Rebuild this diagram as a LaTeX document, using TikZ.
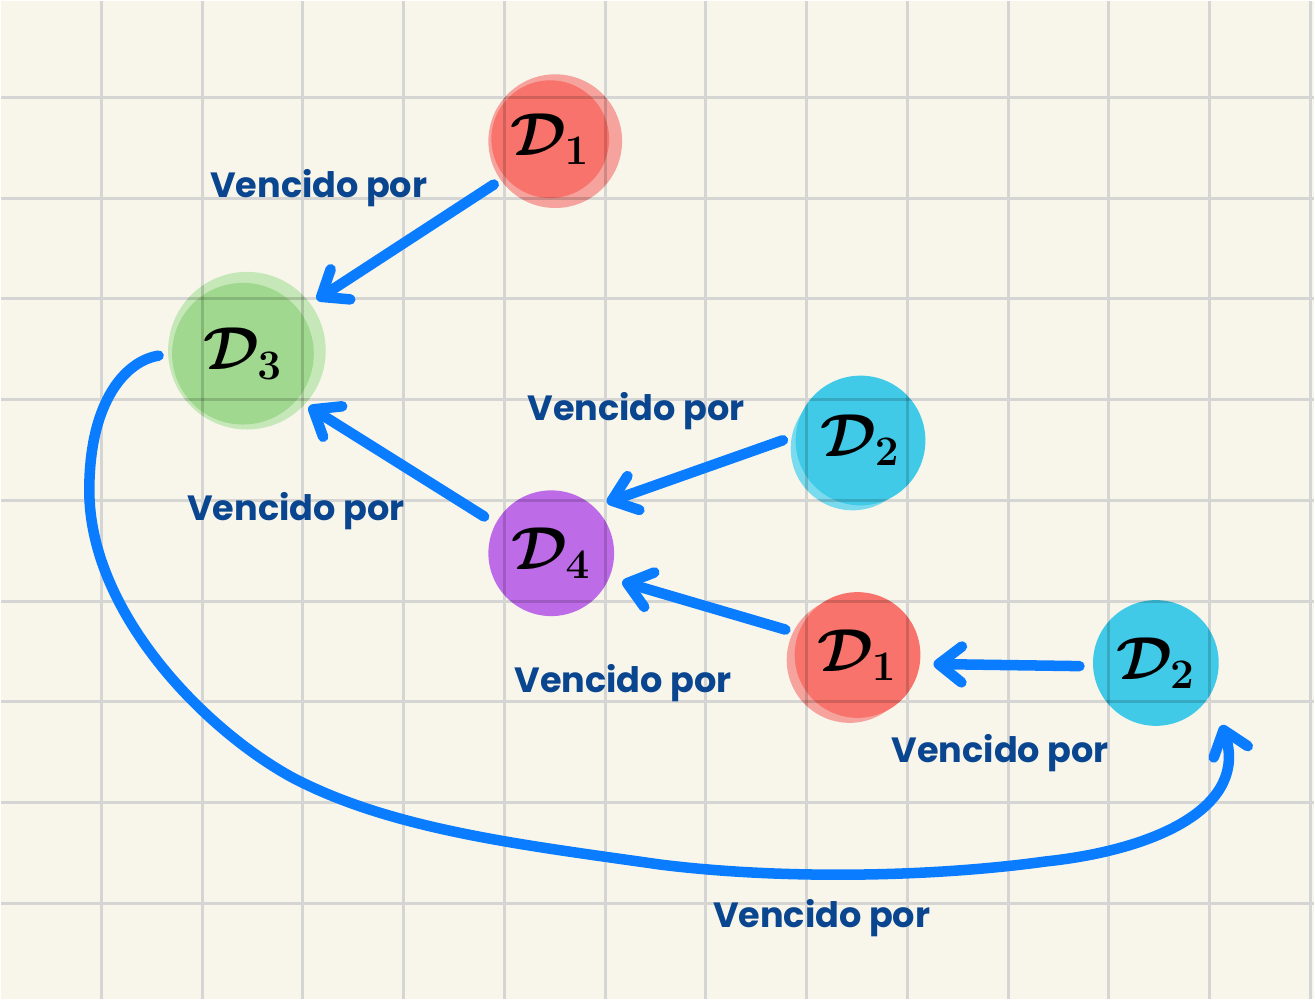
\documentclass[tikz,border=0pt]{standalone}
\usepackage{amsmath,amssymb}
\usepackage{fontspec}
\setsansfont{Poppins}
\usetikzlibrary{arrows.meta}

\definecolor{papel}{HTML}{F8F6EB}
\definecolor{cuadro}{HTML}{D5D5D3}
\definecolor{tinta}{HTML}{0A4690}
\definecolor{azul}{HTML}{0A7CFF}
\definecolor{rojo}{HTML}{F8736C}
\definecolor{rojoclaro}{HTML}{F6A39D}
\definecolor{verde}{HTML}{A0D890}
\definecolor{verdeclaro}{HTML}{C6E8B8}
\definecolor{cian}{HTML}{40CAE8}
\definecolor{cianclaro}{HTML}{7ADAEE}
\definecolor{morado}{HTML}{BE6BE8}

\tikzset{
  duelo/.style 2 args={circle, fill=#1, minimum size=#2, inner sep=0pt,
    font=\fontsize{17}{17}\selectfont\boldmath},
  vence/.style={-{Straight Barb[length=2.3mm, width=3.6mm, round]}, line width=3pt,
    draw=azul, line cap=round, shorten <=1.3mm, shorten >=1.3mm},
  rotulo/.style={font=\sffamily\bfseries\fontsize{10}{12}\selectfont, text=tinta},
  rejilla/.style={line width=0.85pt},
}

\begin{document}
\begin{tikzpicture}
\fill[papel] (0,0) rectangle (13.15,10);
\foreach \i in {0,...,12}{
  \draw[rejilla, cuadro] (1.00+1.01*\i,0) -- (1.00+1.01*\i,10);
}
\foreach \j in {0,...,8}{
  \draw[rejilla, cuadro] (0,9.04-1.01*\j) -- (13.15,9.04-1.01*\j);
}

% discos
\fill[rojoclaro] (5.55,8.60) circle (0.67);
\fill[verdeclaro] (2.46,6.50) circle (0.79);
\fill[cianclaro] (8.53,5.52) circle (0.62);
\fill[rojoclaro] (8.50,3.40) circle (0.63);
\node[duelo={rojo}{1.18cm}] (d1a) at (5.50,8.62) {$\mathcal{D}_1$};
\node[duelo={verde}{1.42cm}] (d3) at (2.42,6.47) {$\mathcal{D}_3$};
\node[duelo={cian}{1.30cm}] (d2a) at (8.61,5.60) {$\mathcal{D}_2$};
\node[duelo={morado}{1.26cm}] (d4) at (5.51,4.47) {$\mathcal{D}_4$};
\node[duelo={rojo}{1.26cm}] (d1b) at (8.58,3.45) {$\mathcal{D}_1$};
\node[duelo={cian}{1.26cm}] (d2b) at (11.57,3.37) {$\mathcal{D}_2$};

% la rejilla se ve a traves de los discos
\begin{scope}
\clip (5.55,8.60) circle (0.67) (2.46,6.50) circle (0.79) (8.53,5.52) circle (0.62)
  (8.50,3.40) circle (0.63) (8.61,5.60) circle (0.65) (5.51,4.47) circle (0.63)
  (8.58,3.45) circle (0.63) (11.57,3.37) circle (0.63);
\foreach \i in {0,...,12}{
  \draw[rejilla, black, opacity=0.16] (1.00+1.01*\i,0) -- (1.00+1.01*\i,10);
}
\foreach \j in {0,...,8}{
  \draw[rejilla, black, opacity=0.16] (0,9.04-1.01*\j) -- (13.15,9.04-1.01*\j);
}
\end{scope}

\draw[vence, shorten >=2mm] (d1a.220) -- (d3.37);
\draw[vence] (d4.152) -- (d3.-40);
\draw[vence] (d2a.176) -- (d4.47);
\draw[vence] (d1b.160) -- (d4.-23);
\draw[vence] (d2b.183) -- (d1b.-8);
\draw[vence, shorten >=3.3mm] (d3.180) .. controls (1.25,6.40) and (0.88,6.00) .. (0.88,5.10)
  .. controls (0.88,3.90) and (2.00,2.73) .. (2.90,2.23)
  .. controls (3.90,1.70) and (5.20,1.55) .. (6.60,1.35)
  .. controls (7.80,1.20) and (9.30,1.22) .. (10.46,1.38)
  .. controls (11.60,1.50) and (12.50,1.94) .. (d2b.-29);

\node[rotulo] (v1) at (3.18,8.13) {Vencido por};
\node[rotulo] (v2) at (2.95,4.89) {Vencido por};
\node[rotulo] (v3) at (6.36,5.89) {Vencido por};
\node[rotulo] (v4) at (6.23,3.17) {Vencido por};
\node[rotulo] (v5) at (10.01,2.47) {Vencido por};
\node[rotulo] (v6) at (8.22,0.81) {Vencido por};
\end{tikzpicture}
\end{document}
